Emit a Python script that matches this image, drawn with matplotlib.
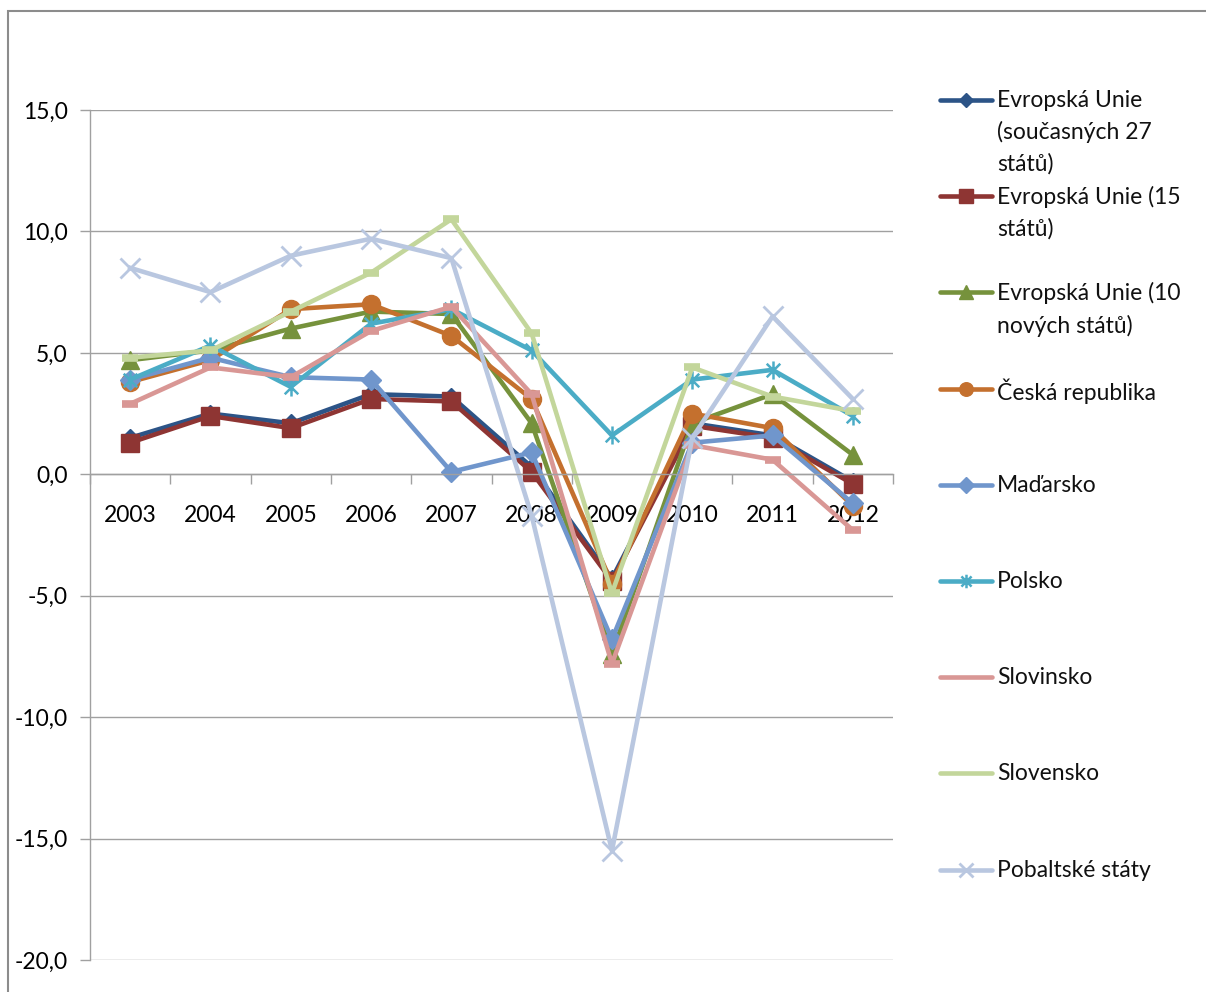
import numpy as np
import matplotlib
matplotlib.use('Agg')
import matplotlib.pyplot as plt
from matplotlib.lines import Line2D
from matplotlib.patches import Rectangle
from matplotlib.path import Path
from matplotlib.ticker import FuncFormatter

plt.rcParams['font.family'] = ['Lato', 'DejaVu Sans']

years = ['2003', '2004', '2005', '2006', '2007', '2008', '2009', '2010', '2011', '2012']

eu27 = [1.5, 2.5, 2.1, 3.3, 3.2, 0.3, -4.3, 2.1, 1.6, -0.3]
eu15 = [1.3, 2.4, 1.9, 3.1, 3.0, 0.1, -4.4, 2.0, 1.5, -0.4]
eu10 = [4.7, 5.1, 6.0, 6.7, 6.6, 2.1, -7.4, 2.1, 3.3, 0.8]
cz = [3.8, 4.7, 6.8, 7.0, 5.7, 3.1, -4.5, 2.5, 1.9, -1.3]
hu = [3.9, 4.8, 4.0, 3.9, 0.1, 0.9, -6.8, 1.3, 1.6, -1.2]
pl = [3.9, 5.3, 3.6, 6.2, 6.8, 5.1, 1.6, 3.9, 4.3, 2.4]
si = [2.9, 4.4, 4.0, 5.9, 6.9, 3.3, -7.8, 1.2, 0.6, -2.3]
sk = [4.8, 5.1, 6.7, 8.3, 10.5, 5.8, -4.9, 4.4, 3.2, 2.6]
baltic = [8.5, 7.5, 9.0, 9.7, 8.9, -1.7, -15.5, 1.5, 6.5, 3.1]

labels = ['Evropská Unie\n(současných 27\nstátů)',
          'Evropská Unie (15\nstátů)',
          'Evropská Unie (10\nnových států)',
          'Česká republika',
          'Maďarsko',
          'Polsko',
          'Slovinsko',
          'Slovensko',
          'Pobaltské státy']

# excel-like star marker: vertical bar + X
star = Path([(0, -1), (0, 1), (-0.75, -0.75), (0.75, 0.75), (-0.75, 0.75), (0.75, -0.75)],
            [Path.MOVETO, Path.LINETO, Path.MOVETO, Path.LINETO, Path.MOVETO, Path.LINETO])

styles = [
    dict(color='#2C5487', marker='D', ms=9.5),
    dict(color='#8E3533', marker='s', ms=12.5),
    dict(color='#76923C', marker='^', ms=12.5),
    dict(color='#C4702E', marker='o', ms=13),
    dict(color='#7096CC', marker='D', ms=10.5),
    dict(color='#4BACC6', marker=star, ms=13, mew=1.8),
    dict(color='#D99795', marker='_', ms=12, mew=5.5),
    dict(color='#C3D69B', marker='_', ms=12, mew=5.5),
    dict(color='#B9C7E0', marker='x', ms=14, mew=2),
]
series = [eu27, eu15, eu10, cz, hu, pl, si, sk, baltic]

W, H = 1206, 992
fig = plt.figure(figsize=(W / 100, H / 100), dpi=100)
ax = fig.add_axes([90 / W, 1 - 960 / H, (893 - 90) / W, (960 - 110) / H])

x = np.arange(len(years))
for vals, st in zip(series, styles):
    ax.plot(x, vals, color=st['color'], lw=3.3, marker=st['marker'], ms=st['ms'],
            mew=st.get('mew', 1), mec=st['color'], mfc=st['color'], solid_joinstyle='round')

ax.set_xlim(-0.5, 9.5)
ax.set_ylim(-20, 15)
ax.set_yticks(np.arange(-20, 16, 5))
ax.yaxis.set_major_formatter(FuncFormatter(lambda v, p: ('%.1f' % v).replace('.', ',')))
ax.yaxis.grid(True, color='#A0A0A0', lw=1)
ax.set_axisbelow(True)

ax.set_xticks(x)
ax.set_xticklabels(years)
ax.set_xticks(np.arange(-0.5, 10, 1), minor=True)
ax.tick_params(axis='x', which='major', length=0, pad=22, labelsize=16.5)
ax.tick_params(axis='x', which='minor', length=7, color='#A0A0A0', width=1)
ax.tick_params(axis='y', length=7, direction='out', color='#A0A0A0', width=1, pad=9, labelsize=16.5)

ax.spines['bottom'].set_position(('data', 0))
ax.spines['top'].set_visible(False)
ax.spines['right'].set_visible(False)
for s in ['bottom', 'left']:
    ax.spines[s].set_color('#A0A0A0')
    ax.spines[s].set_linewidth(1)

# category ticks hang below the axis line
for t in ax.xaxis.get_minor_ticks():
    t.tick1line.set_marker(3)

# legend drawn by hand so that entries are evenly spaced like Excel
for i, (lab, st) in enumerate(zip(labels, styles)):
    yc = 1 - (100 + 96.2 * i) / H
    fig.add_artist(Line2D([940 / W, 992 / W], [yc, yc], transform=fig.transFigure,
                          color=st['color'], lw=3.3, solid_capstyle='round'))
    if st['marker'] != '_':
        fig.add_artist(Line2D([966 / W], [yc], transform=fig.transFigure, color=st['color'],
                              marker=st['marker'], ms=st['ms'] * 0.75, mew=st.get('mew', 1),
                              mfc=st['color'], mec=st['color'], lw=0))
    fig.text(997 / W, yc + 10 / H, lab, transform=fig.transFigure, ha='left', va='top',
             fontsize=16.5, linespacing=1.55, color='#111111')

fig.add_artist(Rectangle((8 / W, -0.5), 2, 1.5 - 11 / H, transform=fig.transFigure,
                         fill=False, edgecolor='#8C8C8C', lw=1.5))

fig.savefig('out.png', dpi=100, facecolor='white')
